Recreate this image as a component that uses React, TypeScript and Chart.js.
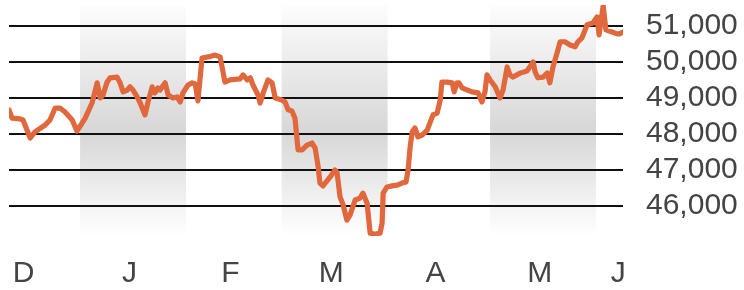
import React, { useEffect, useRef } from "react";
import { Chart, registerables } from "chart.js";

Chart.register(...registerables);

// Month labels and month start days (days relative to Jan 1)
const monthLabels = ["D", "J", "F", "M", "A", "M", "J"];
const monthStartDays = [-31, 0, 31, 59, 90, 120, 151, 181];
const shadedMonthIdx = [1, 3, 5];
const yTickValues = [46000, 47000, 48000, 49000, 50000, 51000];
const xMin = -20.8;
const xMax = 158.9;
const yMin = 45170;
const yMax = 51580;

// Days relative to Jan 1
const dayOffsets = [
  -20.8, -19.9, -17.6, -16.7, -14.6, -13.2, -10.2, -8.8, -7.3, -5.9, -4.4, -2.3, -0.9,
  1.5, 3.5, 5.0, 5.9, 6.7, 7.9, 8.8, 10.8, 11.7, 12.6, 13.8, 14.6, 15.5, 16.7, 17.6,
  19.0, 19.9, 21.1, 21.9, 22.8, 23.4, 24.9, 25.8, 27.2, 28.4, 29.3, 30.1, 31.6, 32.8,
  33.7, 34.5, 35.7, 37.5, 39.5, 41.0, 42.4, 43.9, 46.8, 47.7, 48.9, 49.8, 50.6, 52.1,
  52.7, 53.6, 55.0, 56.2, 57.1, 59.1, 60.0, 60.9, 62.0, 62.9, 63.8, 65.0, 66.4, 67.9,
  68.8, 69.7, 70.2, 71.1, 73.2, 74.6, 75.2, 76.1, 77.0, 78.1, 79.0, 80.5, 81.9, 82.8,
  84.0, 84.9, 86.3, 87.8, 88.4, 88.7, 89.8, 91.3, 92.8, 94.2, 95.4, 96.0, 96.6, 97.2,
  98.0, 98.9, 100.1, 101.6, 102.4, 103.3, 104.5, 105.4, 105.9, 107.4, 108.9, 109.5,
  110.3, 110.9, 111.8, 113.3, 114.7, 116.5, 117.6, 118.5, 119.1, 120.0, 121.5, 122.9,
  123.8, 125.0, 125.8, 126.7, 128.8, 130.8, 132.6, 133.2, 134.0, 135.5, 136.7, 137.5,
  138.4, 139.6, 140.5, 141.9, 143.4, 144.9, 145.7, 146.9, 148.4, 150.1, 151.3, 151.9,
  153.1, 153.9, 155.7, 157.2, 158.0, 158.9,
];

const indexValues = [
  48670, 48440, 48420, 48390, 47890, 48060, 48250, 48390, 48720, 48720, 48610, 48390, 48080,
  48440, 48860, 49420, 49000, 49080, 49440, 49560, 49580, 49420, 49170, 49220, 49310, 49220, 49030, 48860,
  48530, 48890, 49310, 49140, 49280, 49220, 49420, 49080, 49000, 49030, 48890, 49140, 49360, 49420,
  49390, 48920, 50110, 50140, 50190, 50140, 49440, 49500, 49530, 49640, 49500, 49560, 49360, 49080,
  48860, 49140, 49500, 49420, 49000, 48940, 48890, 48670, 48640, 48440, 47560, 47560, 47690, 47750,
  47610, 47080, 46640, 46560, 46810, 47000, 46940, 46250, 46030, 45610, 45750, 46170, 46220, 46360,
  46080, 45250, 45220, 45250, 45530, 46360, 46530, 46560, 46580, 46640, 46670, 47000, 47640, 48060,
  48170, 47920, 47970, 48110, 48310, 48530, 48580, 48940, 49440, 49440, 49420, 49170,
  49420, 49420, 49280, 49220, 49170, 49140, 48890, 49170, 49640, 49500, 49310, 49000,
  49220, 49860, 49640, 49580, 49690, 49750, 50000, 49720, 49560, 49580, 49690, 49420,
  49860, 50250, 50560, 50560, 50470, 50420, 50560, 50670, 51030, 51080, 51250, 50750,
  51560, 50890, 50830, 50780, 50780, 50830,
];

const bandPlugin = {
  id: "monthBands",
  beforeDraw(chart: any) {
    const { ctx, chartArea, scales } = chart;
    const x = scales.x;
    const top = chartArea.top;
    const bottom = chartArea.bottom;
    const g = ctx.createLinearGradient(0, top, 0, bottom);
    g.addColorStop(0, "#fdfdfd");
    g.addColorStop(0.55, "#d7d7d7");
    g.addColorStop(1, "#ffffff");
    ctx.save();
    ctx.fillStyle = g;
    shadedMonthIdx.forEach((i) => {
      const l = x.getPixelForValue(monthStartDays[i]);
      const r = x.getPixelForValue(monthStartDays[i + 1]);
      ctx.fillRect(l, top, r - l, bottom - top);
    });
    ctx.restore();
  },
};

export default function App() {
  const ref = useRef<HTMLCanvasElement | null>(null);
  useEffect(() => {
    document.body.style.margin = "0";
    if (!ref.current) return;
    const tickDays = monthLabels.map((_, i) => {
      const mid = monthStartDays[i] + (monthStartDays[i + 1] - monthStartDays[i]) / 2 - 1;
      return Math.min(mid, xMax - 1.4);
    });
    const chart = new Chart(ref.current, {
      type: "line",
      data: {
        datasets: [
          {
            data: dayOffsets.map((d, i) => ({ x: d, y: indexValues[i] })),
            borderColor: "#e1683c",
            borderWidth: 5.2,
            pointRadius: 0,
            tension: 0,
            borderJoinStyle: "round",
            borderCapStyle: "round",
            fill: false,
          },
        ],
      },
      options: {
        responsive: false,
        animation: false,
        events: [],
        layout: { padding: { left: 9, top: 5, right: 0, bottom: 0 } },
        plugins: { legend: { display: false }, tooltip: { enabled: false } },
        font: { family: "'Liberation Sans', Arial, sans-serif" },
        scales: {
          x: {
            type: "linear",
            min: xMin,
            max: xMax,
            grid: { display: false },
            border: { display: false },
            afterBuildTicks: (scale: any) => {
              scale.ticks = tickDays.map((v) => ({ value: v }));
            },
            afterFit: (scale: any) => {
              scale.height = 54;
              scale.paddingLeft = 0;
              scale.paddingRight = 0;
            },
            ticks: {
              autoSkip: false,
              maxRotation: 0,
              padding: 12,
              color: "#444",
              font: { family: "'Liberation Sans', Arial, sans-serif", size: 30 },
              callback: (_v: any, i: number) => monthLabels[i],
            },
          },
          y: {
            position: "right",
            min: yMin,
            max: yMax,
            border: { display: false },
            grid: { color: "#111", lineWidth: 2, drawTicks: false },
            afterBuildTicks: (scale: any) => {
              scale.ticks = yTickValues.map((v) => ({ value: v }));
            },
            afterFit: (scale: any) => {
              scale.width = 121;
              scale.paddingTop = 0;
              scale.paddingBottom = 0;
            },
            ticks: {
              padding: 23,
              color: "#444",
              font: { family: "'Liberation Sans', Arial, sans-serif", size: 30 },
              callback: (v: any) => Number(v).toLocaleString("en-US"),
            },
          },
        },
      },
      plugins: [bandPlugin],
    });
    return () => chart.destroy();
  }, []);
  return (
    <div style={{ width: 744, height: 290 }}>
      <canvas ref={ref} width={744} height={290} />
    </div>
  );
}
